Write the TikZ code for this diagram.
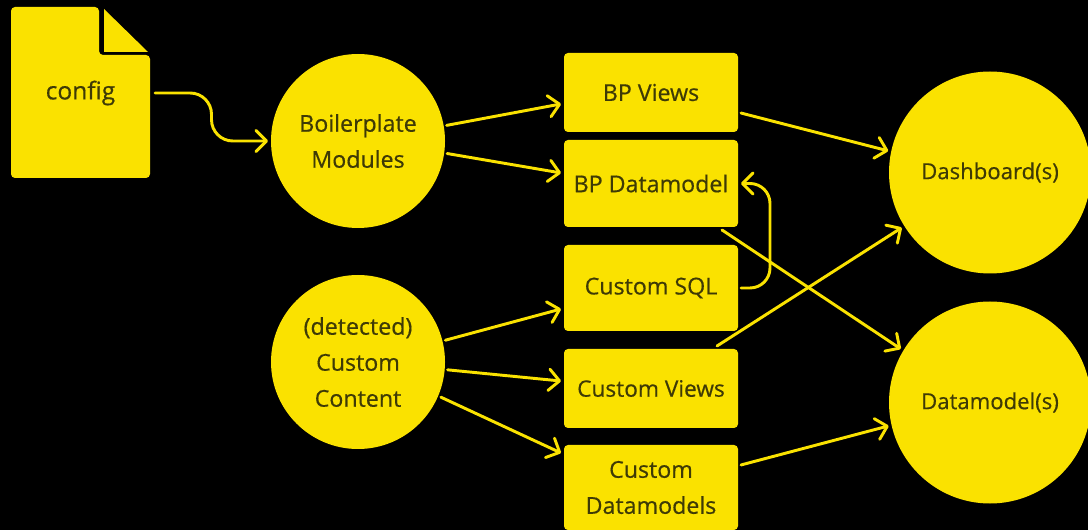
\documentclass[tikz,border=0pt]{standalone}
\usepackage{fontspec}
\setmainfont[FakeBold=0.5]{Open Sans}
\usetikzlibrary{positioning,calc,arrows.meta}
\definecolor{myyellow}{RGB}{250,226,0}
\definecolor{mytext}{RGB}{62,58,6}
\begin{document}
\begin{tikzpicture}[x=0.75pt,y=-0.75pt,node distance=1.5pt,outer sep=2.25pt,
		boxb/.style={
		  fill=myyellow,
		  rounded corners=3pt,
		  minimum width=130.5pt,
		  inner sep=0pt,
		  text=mytext,
		  align=center,
		  font={\fontsize{17.4}{27}\selectfont}},
		smallb/.style={boxb,font={\fontsize{17}{27}\selectfont}},
		roundb/.style={
		  boxb,
		  circle,
		  minimum size=130.5pt},
		bigroundb/.style={roundb,minimum size=151.5pt,font={\fontsize{16.6}{27}\selectfont}},
		link/.style={
		  draw=myyellow,
		  line width=2.2pt,
		  line cap=round,
		  -{Straight Barb[length=8pt,width=16pt,line width=2.2pt,round]}},
		]
		\fill[black] (0,0) rectangle (1088,530);
		\useasboundingbox (0,0) rectangle (1088,530);
		% file shape
		\fill[myyellow,rounded corners=3pt] (11,7) -- (99,7) -- (99,55) -- (150,55) -- (150,178) -- (11,178) -- cycle;
		\fill[myyellow] (104,9) -- (104,52) -- (148,52) -- cycle;
		\node[text=mytext,outer sep=3.75pt,minimum width=104.25pt,minimum height=128.25pt,inner sep=0pt,font={\fontsize{18.4}{27}\selectfont}] (config) at (80.5,93) {config};
		\node[roundb] (Boi) at (358,141) {Boilerplate\\Modules};
		\node[roundb] (Cus) at (358,362) {(detected)\\Custom\\Content};
		\node[bigroundb] (Das) at (990,172.5) {Dashboard(s)};
		\node[bigroundb] (Dat) at (990,402.5) {Datamodel(s)};
		\node[boxb,minimum height=59.25pt] (Vie) at (651,92.5) {BP Views};
		\node[boxb,minimum height=65.25pt,below=of Vie] (Bpd) {BP Datamodel};
		\node[boxb,minimum height=64.5pt,below=9pt of Bpd] (Sql) {Custom SQL};
		\node[smallb,minimum height=59.25pt,below=9pt of Sql] (Cvi) {Custom Views};
		\node[boxb,minimum height=63.75pt,below=8.25pt of Cvi] (Cdm) {Custom\\Datamodels};
		\coordinate (Mid) at ($(config.east)!.5!(Boi.west)$);
		\draw[link,rounded corners=16pt] (config.east) -- (Mid |- config.east) -- (Mid |- Boi.west) -- (Boi.west);
		\draw[link] (Boi.10) -- ([yshift=-8.6pt]Vie.west);
		\draw[link] (Boi.-8) -- ([yshift=7.9pt]Bpd.west);
		\draw[link] (Cus.14) -- ([yshift=-15.75pt]Sql.west);
		\draw[link] (Cus.-5) -- ([yshift=5.6pt]Cvi.west);
		\draw[link] (Cus.-23) -- ([yshift=25.9pt]Cdm.west);
		\draw[link] ([yshift=-15.4pt]Vie.east) -- (Das.168);
		\draw[link] ([xshift=-14.25pt]Bpd.south east) -- (Dat.149);
		\draw[link] ([xshift=-18pt]Cvi.north east) -- (Das.212);
		\draw[link] ([yshift=16.9pt]Cdm.east) -- (Dat.193);
		\draw[link,rounded corners=15pt] (Sql.east) -- ++(21.75pt,0) |- (Bpd.east);
\end{tikzpicture}
\end{document}
